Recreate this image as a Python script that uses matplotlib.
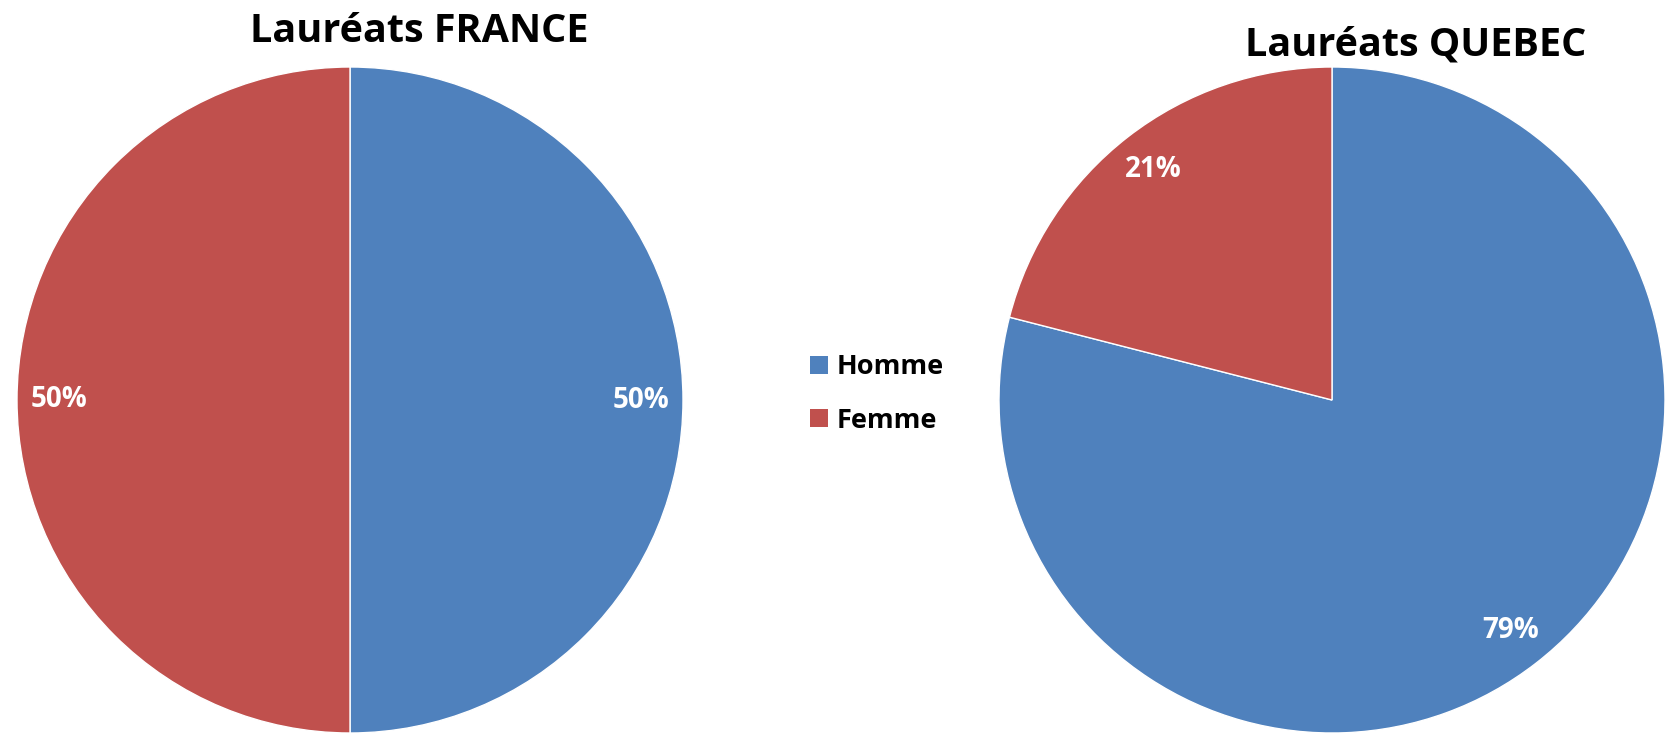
import matplotlib.pyplot as plt
from matplotlib.patches import Patch

plt.rcParams['font.family'] = ['Open Sans', 'DejaVu Sans']

labels = ['Homme', 'Femme']
france = [50, 50]
quebec = [79, 21]
titles = ['Lauréats FRANCE', 'Lauréats QUEBEC']
colors = ['#4F81BD', '#C0504D']

W, H = 1677, 744
fig = plt.figure(figsize=(W / 100, H / 100), dpi=100)

r = 333
centers = [(350, 400), (1332, 400)]
title_pos = [(419, 31), (1416, 45)]

for vals, (cx, cy), title, (tx, ty) in zip([france, quebec], centers, titles, title_pos):
    ax = fig.add_axes([(cx - r) / W, (H - cy - r) / H, 2 * r / W, 2 * r / H])
    wedges, texts, autotexts = ax.pie(vals, colors=colors, startangle=90, counterclock=False,
                                      autopct='%1.0f%%', pctdistance=0.875,
                                      wedgeprops=dict(edgecolor='white', linewidth=1))
    for t in autotexts:
        t.set_color('white')
        t.set_fontsize(20)
        t.set_fontweight('bold')
    ax.set_xlim(-1, 1)
    ax.set_ylim(-1, 1)
    ax.set_aspect('equal')
    fig.text(tx / W, 1 - ty / H, title, ha='center', va='center',
             fontsize=28.5, fontweight='bold')

handles = [Patch(facecolor=c, edgecolor='none') for c in colors]
fig.legend(handles, labels, loc='center left', bbox_to_anchor=(810 / W, 1 - 394 / H),
           frameon=False, prop={'size': 19.5, 'weight': 'bold'},
           borderpad=0, borderaxespad=0,
           handlelength=0.67, handleheight=0.67, handletextpad=0.33, labelspacing=1.0)

fig.savefig('out.png', dpi=100)
